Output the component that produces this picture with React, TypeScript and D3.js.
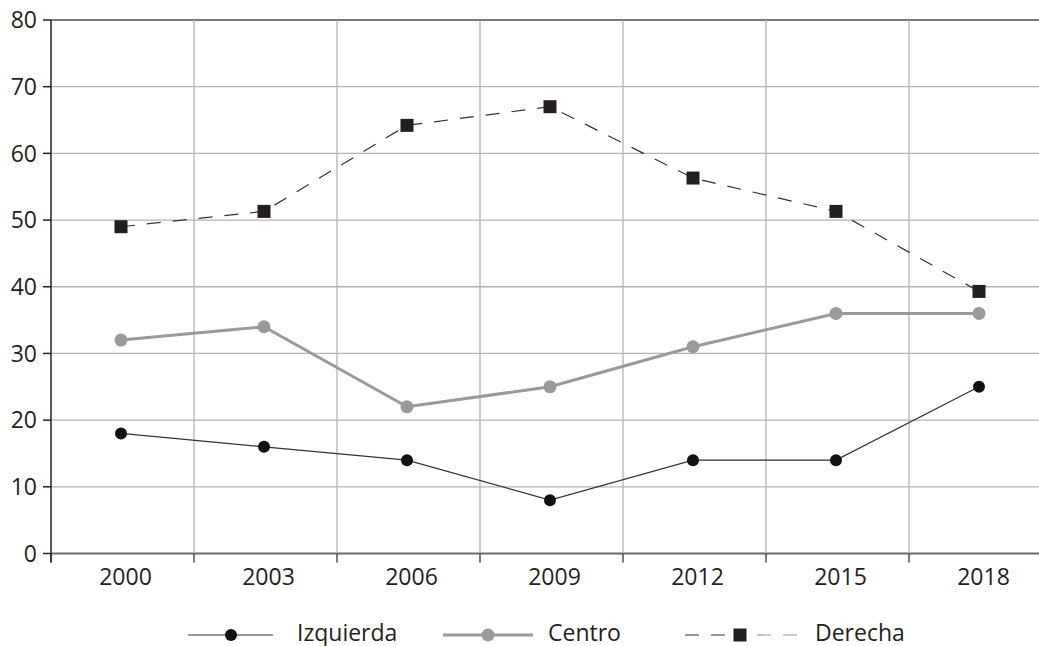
import React from "react";
import * as d3 from "d3";

const years = ["2000", "2003", "2006", "2009", "2012", "2015", "2018"];
const izquierda = [18, 16, 14, 8, 14, 14, 25];
const centro = [32, 34, 22, 25, 31, 36, 36];
const derecha = [49, 51.3, 64.2, 67, 56.3, 51.3, 39.3];
const yTicks = [0, 10, 20, 30, 40, 50, 60, 70, 80];

const W = 1039;
const H = 646;
const left = 51;
const right = 1052;
const top = 20;
const bottom = 553.5;
const font = "'Open Sans', 'Noto Sans', sans-serif";
const textColor = "#231f20";
const legY = 635;
const legBase = 640.5;

export default function App() {
  const x = d3.scaleBand<string>().domain(years).range([left, right]).padding(0);
  const y = d3.scaleLinear().domain([0, 80]).range([bottom, top]);
  const cx = (i: number) => (x(years[i]) as number) + x.bandwidth() / 2 - 1.5;
  const line = d3
    .line<number>()
    .x((_, i) => cx(i))
    .y((d) => y(d));

  const boundaries = years.slice(1).map((yr) => x(yr) as number);

  return (
    <svg
      width={W}
      height={H}
      style={{ position: "absolute", left: 0, top: 0, background: "#fff" }}
    >
      {yTicks.map((t) => (
        <line
          key={"h" + t}
          x1={left}
          x2={right}
          y1={y(t)}
          y2={y(t)}
          stroke={t === 80 ? "#7a7a7a" : t === 0 ? "#6a6a6a" : "#b4b4b4"}
          strokeWidth={t === 80 || t === 0 ? 2 : 1.3}
        />
      ))}
      {boundaries.map((b, i) => (
        <line
          key={"v" + i}
          x1={b}
          x2={b}
          y1={top}
          y2={bottom}
          stroke="#b4b4b4"
          strokeWidth={1.3}
        />
      ))}
      {[left, ...boundaries].map((b, i) => (
        <line
          key={"xt" + i}
          x1={b}
          x2={b}
          y1={bottom}
          y2={bottom + 9}
          stroke="#333"
          strokeWidth={1.3}
        />
      ))}
      <line x1={left} x2={left} y1={top} y2={bottom + 9} stroke="#222" strokeWidth={1.5} />
      {yTicks.map((t) => (
        <g key={"yt" + t}>
          <line x1={left - 8} x2={left} y1={y(t)} y2={y(t)} stroke="#222" strokeWidth={1.5} />
          <text
            x={37}
            y={y(t)}
            dy="0.36em"
            textAnchor="end"
            fontFamily={font}
            fontSize={23}
            fill={textColor}
          >
            {t}
          </text>
        </g>
      ))}
      {years.map((yr) => (
        <text
          key={"xl" + yr}
          x={(x(yr) as number) + x.bandwidth() / 2 + 3}
          y={585}
          textAnchor="middle"
          fontFamily={font}
          fontSize={23}
          fill={textColor}
        >
          {yr}
        </text>
      ))}

      <path
        d={line(derecha) || ""}
        fill="none"
        stroke="#333"
        strokeWidth={1.2}
        strokeDasharray="14 12"
      />
      {derecha.map((v, i) => (
        <rect key={"d" + i} x={cx(i) - 6.5} y={y(v) - 6.5} width={13} height={13} fill="#231f20" />
      ))}

      <path d={line(centro) || ""} fill="none" stroke="#999a9c" strokeWidth={3} />
      {centro.map((v, i) => (
        <circle key={"c" + i} cx={cx(i)} cy={y(v)} r={6.5} fill="#999a9c" />
      ))}

      <path d={line(izquierda) || ""} fill="none" stroke="#333" strokeWidth={1.2} />
      {izquierda.map((v, i) => (
        <circle key={"i" + i} cx={cx(i)} cy={y(v)} r={6} fill="#111" />
      ))}

      <g>
        <line x1={188} x2={273} y1={legY} y2={legY} stroke="#333" strokeWidth={1.2} />
        <circle cx={231} cy={legY} r={6} fill="#111" />
        <text x={297} y={legBase} fontFamily={font} fontSize={23} fill={textColor}>
          Izquierda
        </text>

        <line x1={443} x2={533} y1={legY} y2={legY} stroke="#999a9c" strokeWidth={3} />
        <circle cx={488} cy={legY} r={6.5} fill="#999a9c" />
        <text x={548} y={legBase} fontFamily={font} fontSize={23} fill={textColor}>
          Centro
        </text>

        <line x1={685} x2={733} y1={legY} y2={legY} stroke="#333" strokeWidth={1.2} strokeDasharray="14 12" />
        <line x1={747} x2={799} y1={legY} y2={legY} stroke="#999" strokeWidth={1.2} strokeDasharray="14 12" strokeDashoffset={-10} />
        <rect x={733.5} y={legY - 6.5} width={13} height={13} fill="#231f20" />
        <text x={815} y={legBase} fontFamily={font} fontSize={23} fill={textColor}>
          Derecha
        </text>
      </g>
    </svg>
  );
}
